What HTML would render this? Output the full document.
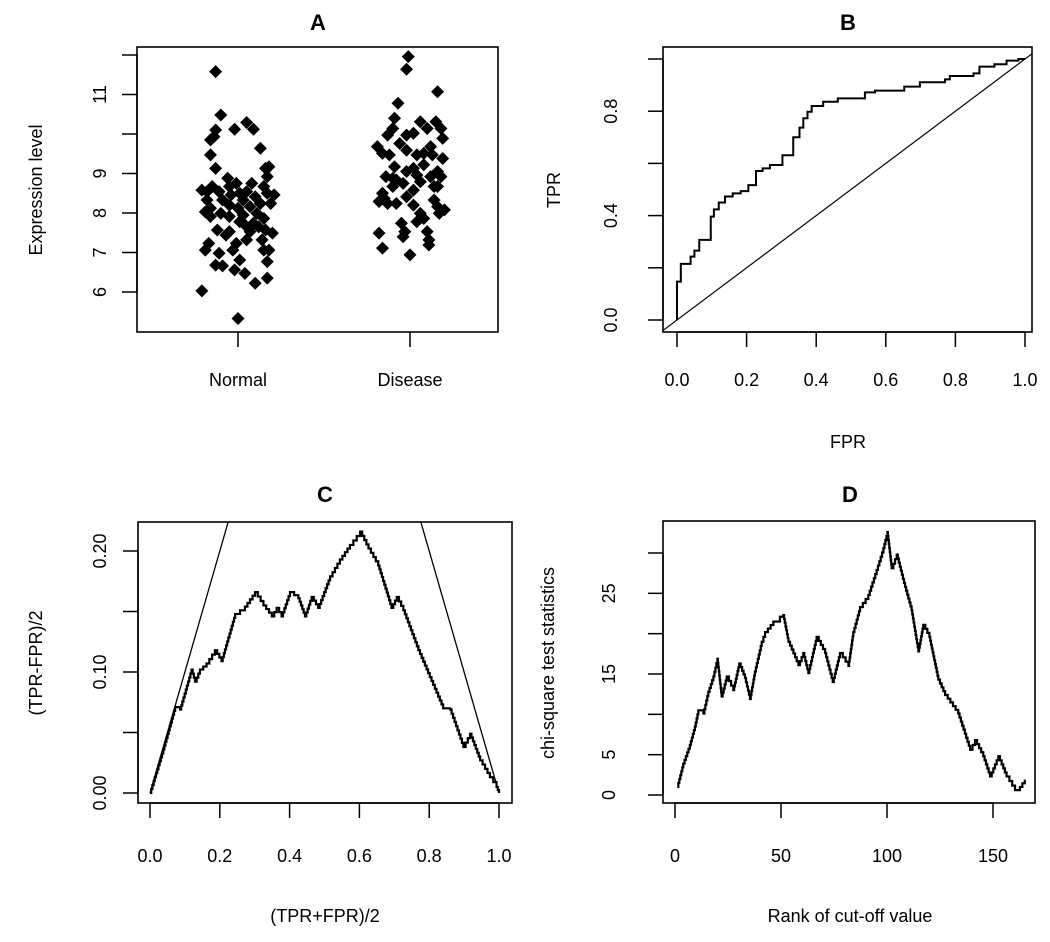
<!DOCTYPE html>
<html><head><meta charset="utf-8"><style>
html,body{margin:0;padding:0;background:#fff;}
svg{display:block;font-family:"Liberation Sans",sans-serif;}
</style></head><body>
<svg id="s" width="1050" height="942" viewBox="0 0 1050 942"></svg>
<script>
// Panel A data
const normalValues=[11.58,6.03,5.33,10.48,10.10,9.93,9.85,10.12,10.29,10.12,9.64,9.47,9.13,8.58,8.54,8.67,8.54,8.88,8.67,8.75,8.50,8.75,9.13,9.17,8.92,8.67,8.50,8.24,8.24,8.16,8.33,8.12,8.20,7.99,8.12,8.03,8.33,7.57,7.44,7.53,7.78,7.70,7.74,7.65,7.86,7.57,7.49,7.32,7.23,7.06,6.98,7.06,7.23,6.68,6.66,6.81,6.56,6.47,6.22,6.35,6.77,7.06,7.06,7.99,8.33,8.46,8.54,8.41,8.46,7.91,7.91,7.95,7.53,7.32];
const normalJitter=[-0.13,-0.21,0,-0.10,-0.13,-0.14,-0.16,-0.02,0.05,0.09,0.13,-0.16,-0.13,-0.21,-0.18,-0.15,-0.11,-0.06,-0.05,-0.01,0.01,0.08,0.16,0.18,0.17,0.15,0.17,0.19,0.13,0.07,0.03,0,-0.05,-0.10,-0.16,-0.19,-0.18,-0.12,-0.07,-0.05,0.01,0.04,0.09,0.12,0.15,0.16,0.20,0.05,-0.01,-0.03,-0.11,-0.19,-0.17,-0.13,-0.09,0.01,-0.02,0.04,0.10,0.17,0.17,0.18,0.15,0.11,-0.09,-0.04,0.05,0.10,0.21,-0.16,-0.05,0.03,0.07,0.14];
const diseaseValues=[11.96,11.64,11.07,10.78,10.40,10.14,9.97,9.68,9.51,9.47,9.76,9.97,10.02,10.31,10.14,10.31,10.14,9.89,9.68,9.51,9.47,9.59,9.47,9.38,9.17,8.92,8.84,9.05,9.13,9.22,9.05,8.92,8.67,8.79,8.58,8.75,8.67,8.50,8.29,8.24,8.24,8.41,8.20,7.99,7.86,7.78,8.16,8.08,7.99,8.33,7.74,7.40,7.53,7.49,7.11,6.94,7.53,7.19,7.32,8.88,8.37,8.96,8.92,8.67];
const diseaseJitter=[-0.01,-0.02,0.16,-0.07,-0.09,-0.10,-0.13,-0.19,-0.16,-0.12,-0.06,-0.02,0.02,0.06,0.10,0.15,0.18,0.19,0.12,0.08,0.04,-0.02,0.13,0.19,-0.09,-0.14,-0.08,-0.02,0.02,0.08,0.16,0.18,0.14,0.06,0.02,-0.04,-0.10,-0.16,-0.18,-0.13,-0.08,-0.02,0.02,0.06,0.08,0.04,0.16,0.20,0.17,0.14,-0.05,-0.04,-0.03,-0.18,-0.16,0,0.10,0.11,0.11,-0.10,-0.15,0.04,0.12,0.16];
const groupLabels=["Normal","Disease"];
const aTicks=[6,7,8,9,10,11,12];
const aTickLabels=["6","7","8","9","","11",""];
// Panel B data
const rocFpr=[0,.011,.039,.05,.064,.097,.106,.12,.138,.16,.183,.205,.227,.246,.267,.303,.334,.352,.363,.375,.387,.42,.462,.54,.569,.653,.698,.77,.784,.852,.869,.912,.947,.981];
const rocTpr=[.147,.215,.243,.266,.307,.396,.424,.45,.473,.485,.494,.517,.571,.581,.594,.631,.70,.737,.773,.798,.82,.836,.849,.872,.879,.894,.911,.922,.935,.945,.971,.98,.994,1.0];
const bXTicks=[0,0.2,0.4,0.6,0.8,1.0];
const bXLabels=["0.0","0.2","0.4","0.6","0.8","1.0"];
const bYTicks=[0,0.2,0.4,0.6,0.8,1.0];
const bYLabels=["0.0","","0.4","","0.8",""];
// Panel C data
const cX=[0,.038,.072,.086,.119,.129,.143,.162,.186,.205,.244,.272,.301,.325,.349,.363,.377,.401,.425,.444,.463,.482,.516,.544,.573,.602,.626,.654,.692,.707,.726,.769,.797,.84,.86,.898,.917,.946,.974,.993,1];
const cY=[0,.036,.071,.069,.102,.092,.102,.107,.118,.109,.148,.154,.166,.155,.146,.153,.146,.166,.161,.146,.162,.153,.179,.193,.205,.216,.202,.188,.153,.162,.151,.118,.099,.07,.069,.038,.049,.027,.013,.005,0];
const cXTicks=[0,0.2,0.4,0.6,0.8,1.0];
const cXLabels=["0.0","0.2","0.4","0.6","0.8","1.0"];
const cYTicks=[0,0.05,0.10,0.15,0.20];
const cYLabels=["0.00","","0.10","","0.20"];
// Panel D data
const dRank=[1.1,3.9,7,9.4,11,13.4,15.7,18.1,20,22,24.4,27.5,30.3,33,35.4,37.7,40.9,42.5,46.4,49.5,51.1,53.5,58.2,60.5,62.9,66.8,70.8,74.4,77.8,81.8,84.1,87.3,91.2,95.1,98.3,100.2,102.2,104.6,108.5,111.6,114.8,117.1,120,124.2,127.4,133.6,139.2,141.5,145.4,148.6,152.5,156.4,160.4,162.7,165];
const dChi=[1.0,3.9,6.2,8.5,10.5,10.1,12.8,14.7,16.9,12.2,14.7,13,16.3,14.5,11.9,15.3,19,20.2,21.5,22.1,22.3,19,16.1,17.6,15.1,19.6,17.6,14,17.6,16,20.2,23.3,24.8,27.9,30.6,32.6,28.1,29.8,25.8,22.9,17.8,21.1,19.6,14.3,12.4,10.1,5.6,6.8,4.8,2.3,4.8,2.3,0.6,1.0,1.9];
const dXTicks=[0,50,100,150];
const dXLabels=["0","50","100","150"];
const dYTicks=[0,5,10,15,20,25,30];
const dYLabels=["0","5","","15","","25",""];

const NS="http://www.w3.org/2000/svg";
const svg=document.getElementById('s');
function mk(tag,attrs,parent){const e=document.createElementNS(NS,tag);for(const k in attrs)e.setAttribute(k,attrs[k]);(parent||svg).appendChild(e);return e;}
function lin(d0,d1,p0,p1){return v=>p0+(v-d0)*(p1-p0)/(d1-d0);}
function txt(x,y,s,size,opts,name){
  const t=mk('text',{x:x,y:y,'font-size':size,'text-anchor':'middle',fill:'#000'});
  if(opts&&opts.rot) t.setAttribute('transform','rotate(-90 '+x+' '+y+')');
  if(opts&&opts.bold) t.setAttribute('font-weight','bold');
  t.textContent=s;
  
  
  return t;
}
function box(x0,y0,x1,y1,name){
  const r=mk('rect',{x:x0,y:y0,width:x1-x0,height:y1-y0,fill:'none',stroke:'#000','stroke-width':1.6});
  
  
}
function xAxis(sx,ticks,labels,yb,ly,name){
  const g=mk('g',{});
  
  
  mk('line',{x1:sx(ticks[0]),x2:sx(ticks[ticks.length-1]),y1:yb,y2:yb,stroke:'#000','stroke-width':1.5},g);
  ticks.forEach((t,i)=>{mk('line',{x1:sx(t),x2:sx(t),y1:yb,y2:yb+15,stroke:'#000','stroke-width':1.5},g);
    if(labels[i]){const e=txt(sx(t),ly,labels[i],18,null,'x-tick-label');g.appendChild(e);}});
}
function yAxis(sy,ticks,labels,xb,lx,name){
  const g=mk('g',{});
  
  
  mk('line',{x1:xb,x2:xb,y1:sy(ticks[0]),y2:sy(ticks[ticks.length-1]),stroke:'#000','stroke-width':1.5},g);
  ticks.forEach((t,i)=>{mk('line',{x1:xb,x2:xb-15,y1:sy(t),y2:sy(t),stroke:'#000','stroke-width':1.5},g);
    if(labels[i]){const e=txt(lx,sy(t),labels[i],18,{rot:1},'y-tick-label');g.appendChild(e);}});
}
function stairs(pts){
  let d='M'+pts[0][0]+','+pts[0][1];
  for(let i=1;i<pts.length;i++){
    const [x0,y0]=pts[i-1],[x1,y1]=pts[i];
    const n=Math.max(1,Math.round(Math.abs(y1-y0)/4));
    for(let k=1;k<=n;k++){
      const xb=x0+(x1-x0)*k/n, yb=y0+(y1-y0)*k/n;
      d+=' L'+xb+','+(y0+(y1-y0)*(k-1)/n)+' L'+xb+','+yb;
    }
  }
  return d;
}

// ---- Panel A ----
{
  const sx=lin(1,2,238,410), sy=lin(6,12,292,55);
  box(137,47,498,332,'panel-a-box');
  txt(318,30,'A',22,{bold:1},'panel-a-title');
  yAxis(sy,aTicks,aTickLabels,137,106,'panel-a-y-axis');
  const g=mk('g',{});
  [1,2].forEach(c=>{mk('line',{x1:sx(c),x2:sx(c),y1:332,y2:347,stroke:'#000','stroke-width':1.5},g);
    const t=txt(sx(c),386,groupLabels[c-1],18,null,'category-label');g.appendChild(t);});
  txt(42,190,'Expression level',18,{rot:1},'y-axis-title-a');
  const pg=mk('g',{fill:'#000'});
  function pt(c,j,v,name){const x=sx(c+j),y=sy(v),r=6.5;
    const p=mk('polygon',{points:(x)+','+(y-r)+' '+(x+r)+','+y+' '+x+','+(y+r)+' '+(x-r)+','+y},pg);
    
    }
  normalValues.forEach((v,i)=>pt(1,normalJitter[i],v,'point-normal'));
  diseaseValues.forEach((v,i)=>pt(2,diseaseJitter[i],v,'point-disease'));
}
// ---- Panel B ----
{
  const sx=lin(0,1,677,1025), sy=lin(0,1,320,59);
  box(663,47,1032,332,'panel-b-box');
  txt(848,30,'B',22,{bold:1},'panel-b-title');
  xAxis(sx,bXTicks,bXLabels,332,386,'panel-b-x-axis');
  yAxis(sy,bYTicks,bYLabels,663,617,'panel-b-y-axis');
  txt(848,448,'FPR',18,null,'x-axis-title-b');
  txt(560,190,'TPR',18,{rot:1},'y-axis-title-b');
  const cpb=mk('clipPath',{id:'clipb'});mk('rect',{x:663,y:47,width:369,height:285},cpb);
  const diag=mk('line',{x1:sx(-0.04),y1:sy(-0.04),x2:sx(1.06),y2:sy(1.06),stroke:'#000','stroke-width':1.2,'clip-path':'url(#clipb)'});
  
  let d='M'+sx(0)+','+sy(0);
  rocFpr.forEach((f,i)=>{d+=' L'+sx(f)+','+sy(i?rocTpr[i-1]:0)+' L'+sx(f)+','+sy(rocTpr[i]);});
  d+=' L'+sx(1)+','+sy(1);
  const p=mk('path',{d:d,fill:'none',stroke:'#000','stroke-width':2});
  
}
// ---- Panel C ----
{
  const sx=lin(0,1,150,499), sy=lin(0,0.2,793,551);
  box(138,522,512,803,'panel-c-box');
  txt(325,502,'C',22,{bold:1},'panel-c-title');
  xAxis(sx,cXTicks,cXLabels,803,862,'panel-c-x-axis');
  yAxis(sy,cYTicks,cYLabels,138,106,'panel-c-y-axis');
  txt(325,922,'(TPR+FPR)/2',18,null,'x-axis-title-c');
  txt(42,663,'(TPR-FPR)/2',18,{rot:1},'y-axis-title-c');
  const cp=mk('clipPath',{id:'clipc'});mk('rect',{x:138,y:522,width:374,height:281},cp);
  const l1=mk('line',{x1:sx(0),y1:sy(0),x2:sx(0.3),y2:sy(0.3),stroke:'#000','stroke-width':1.3,'clip-path':'url(#clipc)'});
  
  const l2=mk('line',{x1:sx(1),y1:sy(0),x2:sx(0.7),y2:sy(0.3),stroke:'#000','stroke-width':1.3,'clip-path':'url(#clipc)'});
  
  const p=mk('path',{d:stairs(cX.map((x,i)=>[sx(x),sy(cY[i])])),fill:'none',stroke:'#000','stroke-width':2.2});
  
}
// ---- Panel D ----
{
  const sx=lin(0,150,675,993), sy=lin(0,30,795,553);
  box(663,521,1035,803,'panel-d-box');
  txt(850,502,'D',22,{bold:1},'panel-d-title');
  xAxis(sx,dXTicks,dXLabels,803,862,'panel-d-x-axis');
  yAxis(sy,dYTicks,dYLabels,663,615,'panel-d-y-axis');
  txt(850,922,'Rank of cut-off value',18,null,'x-axis-title-d');
  txt(554,663,'chi-square test statistics',18,{rot:1},'y-axis-title-d');
  const p=mk('path',{d:stairs(dRank.map((x,i)=>[sx(x),sy(dChi[i])])),fill:'none',stroke:'#000','stroke-width':2.2});
  
}
</script>
</body></html>
